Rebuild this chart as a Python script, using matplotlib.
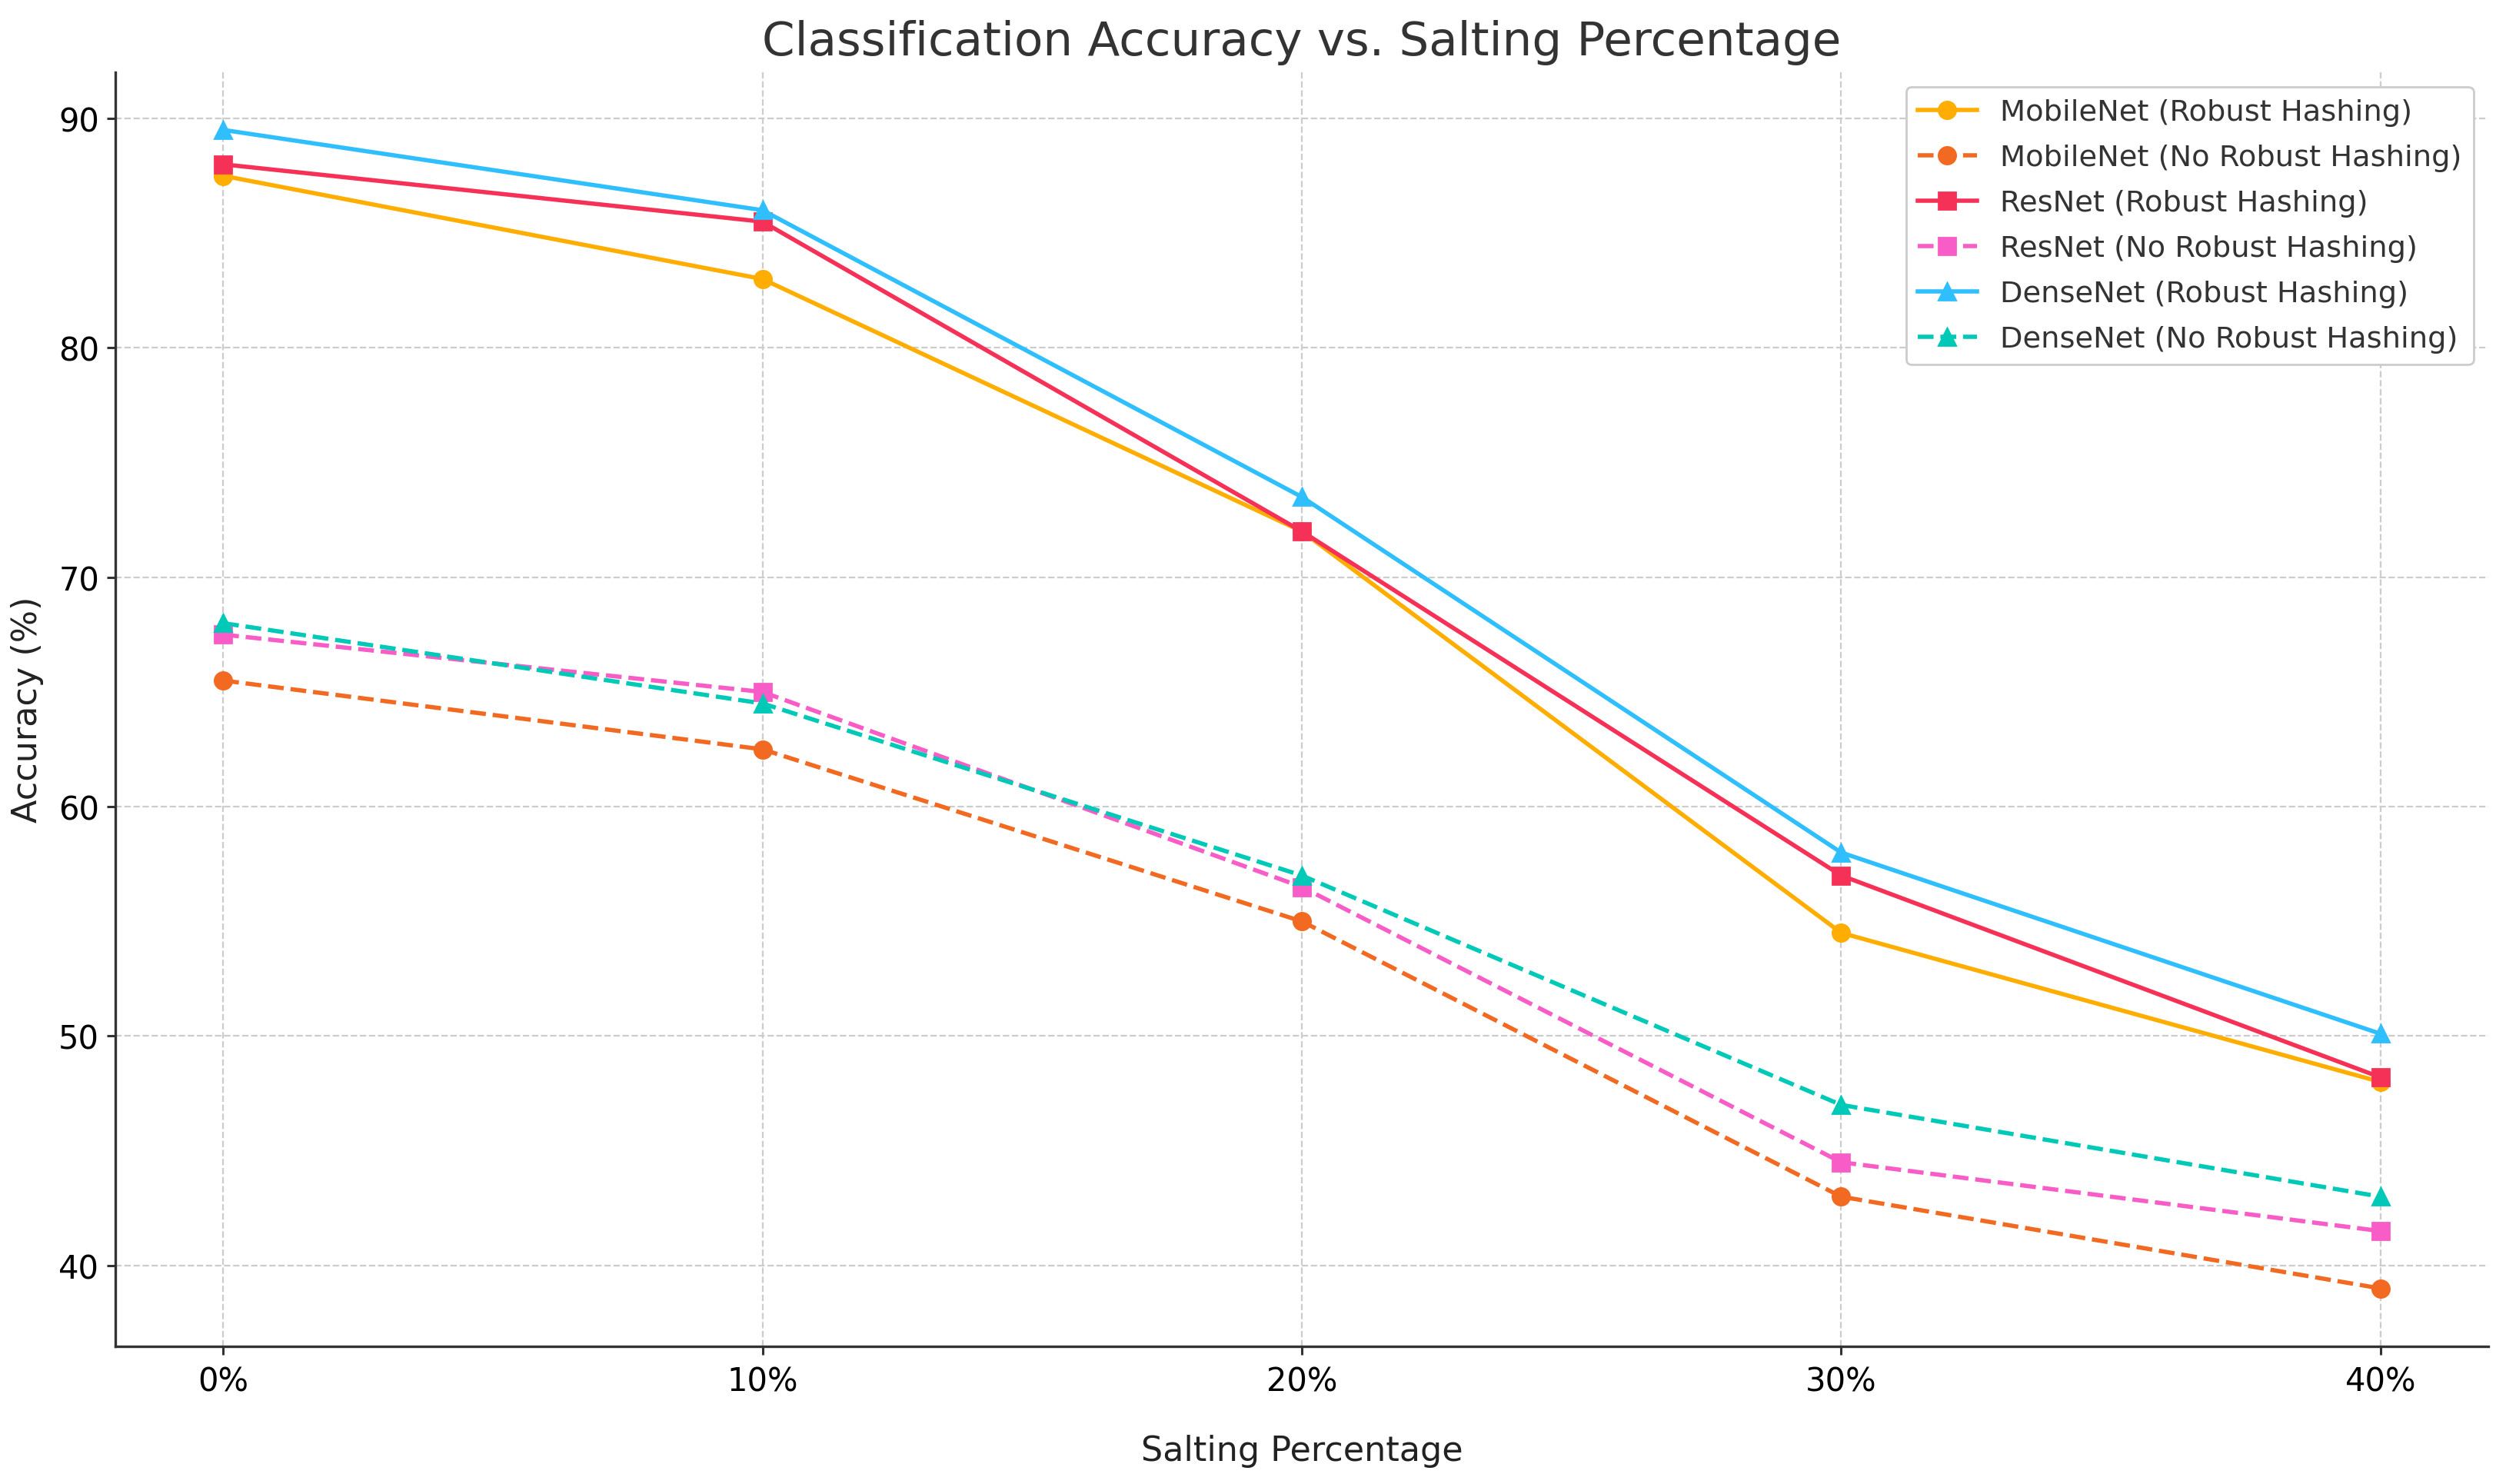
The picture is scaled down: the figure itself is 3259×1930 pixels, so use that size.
import matplotlib
matplotlib.use("Agg")
import matplotlib.pyplot as plt

# salting levels on the x axis
salting = ["0%", "10%", "20%", "30%", "40%"]

# accuracy values (%)
mobilenet_robust = [87.5, 83.0, 72.0, 54.5, 48.0]
mobilenet_plain = [65.5, 62.5, 55.0, 43.0, 39.0]
resnet_robust = [88.0, 85.5, 72.0, 57.0, 48.2]
resnet_plain = [67.5, 65.0, 56.5, 44.5, 41.5]
densenet_robust = [89.5, 86.0, 73.5, 58.0, 50.1]
densenet_plain = [68.0, 64.5, 57.0, 47.0, 43.0]

series = [
    ("MobileNet (Robust Hashing)", mobilenet_robust, "#FFAE00", "o", "-"),
    ("MobileNet (No Robust Hashing)", mobilenet_plain, "#F26A22", "o", "--"),
    ("ResNet (Robust Hashing)", resnet_robust, "#F53157", "s", "-"),
    ("ResNet (No Robust Hashing)", resnet_plain, "#F85CC6", "s", "--"),
    ("DenseNet (Robust Hashing)", densenet_robust, "#2FBFFF", "^", "-"),
    ("DenseNet (No Robust Hashing)", densenet_plain, "#00C9B8", "^", "--"),
]

fig, ax = plt.subplots(figsize=(16.295, 9.655), dpi=200)
fig.subplots_adjust(left=0.046, right=0.993, bottom=0.0927, top=0.951)

x = list(range(len(salting)))
for label, values, color, marker, style in series:
    ax.plot(x, values, marker=marker, linestyle=style, color=color,
            linewidth=2, markersize=8, label=label)

ax.set_xticks(x)
ax.set_xticklabels(salting)

# grid and spines
ax.grid(True, linestyle="--", linewidth=0.8, color="#cccccc")
ax.set_axisbelow(True)
for side in ["top", "right"]:
    ax.spines[side].set_visible(False)
for side in ["left", "bottom"]:
    ax.spines[side].set_color("#333333")
    ax.spines[side].set_linewidth(1.2)
ax.tick_params(axis="both", labelsize=15, length=4, width=1.1, color="#333333")
ax.tick_params(axis="x", pad=5)

# labels and title
ax.set_title("Classification Accuracy vs. Salting Percentage", fontsize=22,
             color="#333333", pad=8)
ax.set_xlabel("Salting Percentage", fontsize=16, labelpad=17, color="#222222")
ax.set_ylabel("Accuracy (%)", fontsize=16, labelpad=7, color="#222222")

leg = ax.legend(loc="upper right", fontsize=13.8, labelspacing=0.6,
                framealpha=1.0, edgecolor="#cccccc")
for t in leg.get_texts():
    t.set_color("#333333")

fig.savefig("out.png", dpi=200)
